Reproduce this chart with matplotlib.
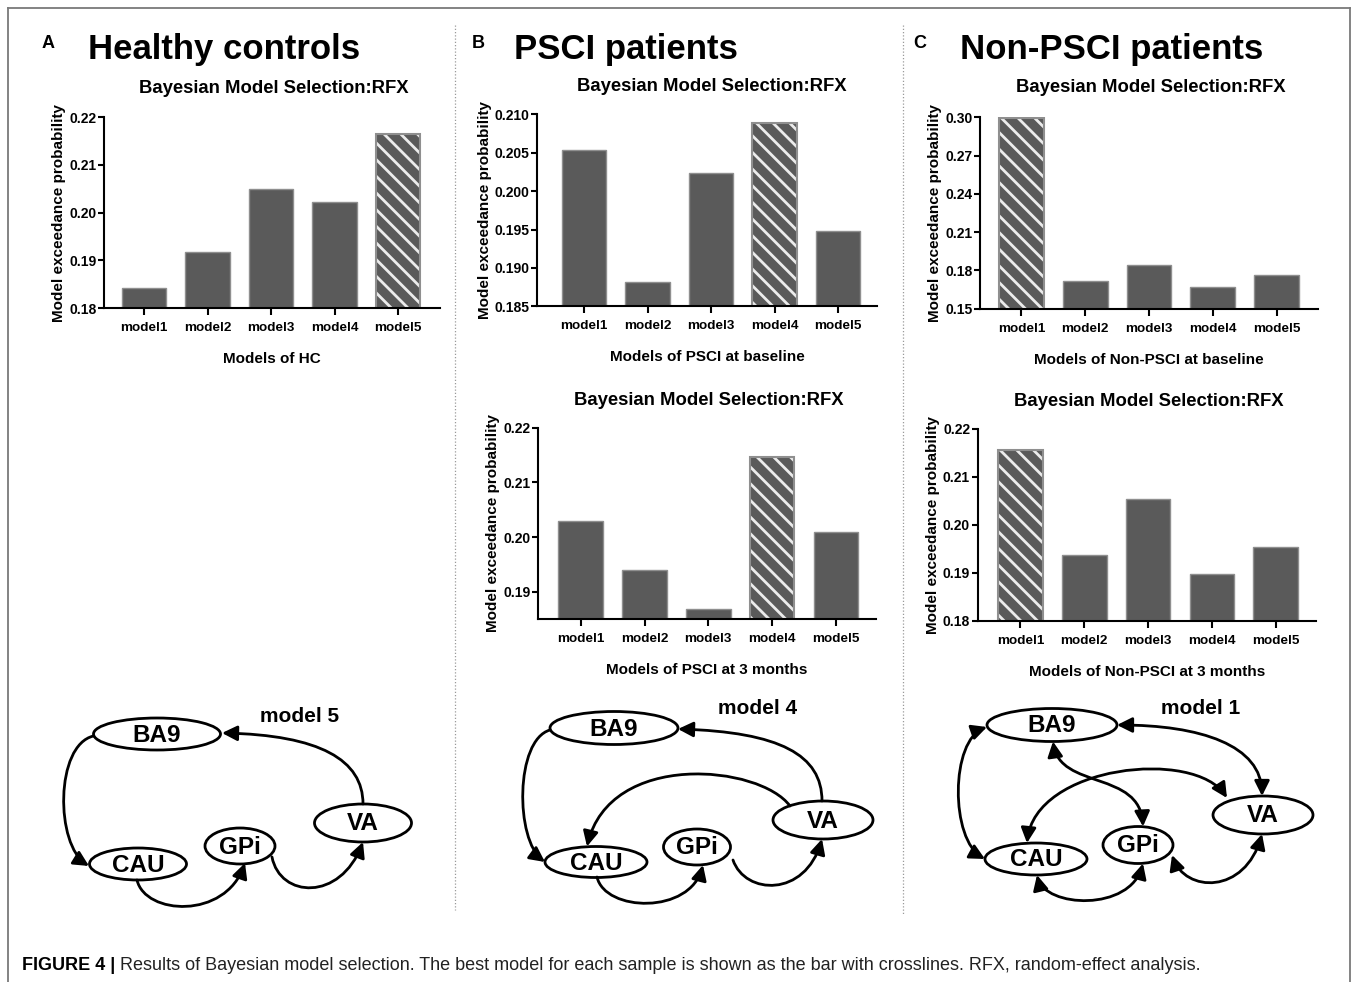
import matplotlib
matplotlib.use("Agg")
import matplotlib.pyplot as plt
import numpy as np
from matplotlib.patches import Ellipse, FancyArrowPatch
from matplotlib.path import Path

# exceedance probabilities per model, per group
models = ["model1", "model2", "model3", "model4", "model5"]
hc = [0.1842, 0.1918, 0.2049, 0.2023, 0.2165]
psci_base = [0.2053, 0.1881, 0.2024, 0.2089, 0.1948]
nonpsci_base = [0.2994, 0.1720, 0.1843, 0.1672, 0.1766]
psci_3m = [0.2029, 0.1940, 0.1868, 0.2147, 0.2010]
nonpsci_3m = [0.2156, 0.1936, 0.2054, 0.1897, 0.1954]

W, H = 1358, 982
BAR = "#5a5a5a"
EDGE = "#8f8f8f"
STRIPE = "#ececec"

plt.rcParams["font.family"] = ["Liberation Sans", "DejaVu Sans"]
plt.rcParams["hatch.linewidth"] = 2.0

fig = plt.figure(figsize=(W / 100, H / 100), dpi=100)
fig.patch.set_facecolor("white")

# full-figure canvas in pixel units for frame, headings and network sketches
cv = fig.add_axes([0, 0, 1, 1])
cv.set_xlim(0, W)
cv.set_ylim(H, 0)
cv.axis("off")


def px_rect(left, top, right, bottom):
    return [left / W, 1 - bottom / H, (right - left) / W, (bottom - top) / H]


def bar_panel(rect, values, ylim, yticks, yfmt, xlim, xlabel):
    ax = fig.add_axes(px_rect(*rect))
    vals = np.array(values)
    x = np.arange(len(models))
    best = int(np.argmax(vals))
    plain = x != best
    ax.bar(x[plain], vals[plain], width=0.7, color=BAR, edgecolor=EDGE, linewidth=1)
    ax.bar(x[best], vals[best], width=0.7, color=BAR, edgecolor=STRIPE,
           hatch="\\\\", linewidth=0)
    ax.bar(x[best], vals[best], width=0.7, fill=False, edgecolor=EDGE, linewidth=1.5)
    ax.set_xlim(*xlim)
    ax.set_ylim(*ylim)
    ax.set_yticks(yticks)
    ax.set_yticklabels([yfmt.format(t) for t in yticks])
    ax.set_xticks(x)
    ax.set_xticklabels(models)
    for s in ["top", "right"]:
        ax.spines[s].set_visible(False)
    for s in ["left", "bottom"]:
        ax.spines[s].set_linewidth(1.5)
    ax.tick_params(axis="y", length=4, width=1.5, pad=1.5, labelsize=10)
    ax.tick_params(axis="x", length=5, width=1.5, pad=5, labelsize=9.7)
    for lab in ax.get_xticklabels() + ax.get_yticklabels():
        lab.set_fontweight("bold")
    ax.set_ylabel("Model exceedance probability", fontsize=11, fontweight="bold", labelpad=2)
    ax.set_xlabel(xlabel, fontsize=11, fontweight="bold", labelpad=13)
    ax.patch.set_alpha(0)
    return ax


bar_panel((104, 117, 440, 308), hc, (0.18, 0.22), [0.18, 0.19, 0.20, 0.21, 0.22],
          "{:.2f}", (-0.63, 4.66), "Models of HC")
bar_panel((537, 114.3, 877, 306.3), psci_base, (0.185, 0.210),
          [0.185, 0.190, 0.195, 0.200, 0.205, 0.210], "{:.3f}", (-0.74, 4.61),
          "Models of PSCI at baseline")
bar_panel((980, 117.3, 1318, 308.7), nonpsci_base, (0.15, 0.30),
          [0.15, 0.18, 0.21, 0.24, 0.27, 0.30], "{:.2f}", (-0.65, 4.65),
          "Models of Non-PSCI at baseline")
bar_panel((538, 427.7, 876, 619.3), psci_3m, (0.185, 0.22), [0.19, 0.20, 0.21, 0.22],
          "{:.2f}", (-0.67, 4.63), "Models of PSCI at 3 months")
bar_panel((977.7, 428.7, 1316, 620.7), nonpsci_3m, (0.18, 0.22),
          [0.18, 0.19, 0.20, 0.21, 0.22], "{:.2f}", (-0.67, 4.63),
          "Models of Non-PSCI at 3 months")

# panel headings
for letter, name, lx, nx in [("A", "Healthy controls", 42, 88),
                             ("B", "PSCI patients", 472, 514),
                             ("C", "Non-PSCI patients", 913, 960)]:
    cv.text(lx, 48, letter, fontsize=13, fontweight="bold", va="baseline")
    cv.text(nx, 59, name, fontsize=25, fontweight="bold", va="baseline")

for tx, ty in [(274, 92.5), (711.7, 90.5), (1150.8, 91.5), (709, 405), (1149, 405.5)]:
    cv.text(tx, ty, "Bayesian Model Selection:RFX", fontsize=13.3, fontweight="bold",
            ha="center", va="baseline")

# outer frame and dotted column separators
frame = dict(color="#7a7a7a", lw=1.3)
cv.plot([7.5, 7.5], [H, 7.5], **frame)
cv.plot([7.5, 1350], [7.5, 7.5], **frame)
cv.plot([1350, 1350], [7.5, H], **frame)
cv.plot([455, 455], [25, 910], color="#9a9a9a", lw=0.9, ls=(0, (1, 1.6)))
cv.plot([903, 903], [25, 915], color="#9a9a9a", lw=0.9, ls=(0, (1, 1.6)))


def node(cx, cy, w, h, label):
    cv.add_patch(Ellipse((cx, cy), w, h, facecolor="white", edgecolor="black",
                         lw=2, zorder=2))
    cv.text(cx, cy + 1, label, fontsize=17.5, fontweight="bold", ha="center",
            va="center", zorder=4)


def link(p0, c1, c2, p3, both=False):
    path = Path([p0, c1, c2, p3], [Path.MOVETO, Path.CURVE4, Path.CURVE4, Path.CURVE4])
    style = "<|-|>" if both else "-|>"
    cv.add_patch(FancyArrowPatch(path=path, arrowstyle=style + ",head_length=0.7,head_width=0.35",
                                 mutation_scale=13, lw=2, color="black", zorder=3))


# model 5 (healthy controls)
node(157, 734, 127, 32, "BA9")
node(138, 864, 97, 32, "CAU")
node(240, 846, 70, 36, "GPi")
node(363, 823, 97, 38, "VA")
cv.text(260, 722, "model 5", fontsize=15, fontweight="bold", va="baseline")
link((93.5, 736), (55, 745), (55, 845), (89, 866))
link((363, 804), (363, 760), (320, 735), (222, 733))
link((137, 880), (145, 915), (225, 920), (245, 863))
link((272, 857), (280, 898), (340, 902), (363, 842))

# model 4 (PSCI)
node(614, 728, 128, 33, "BA9")
node(596, 862, 102, 31, "CAU")
node(697, 847, 67, 36, "GPi")
node(823, 820, 100, 38, "VA")
cv.text(718, 714, "model 4", fontsize=15, fontweight="bold", va="baseline")
link((550, 730), (515, 740), (515, 840), (545, 862))
link((822, 801), (822, 755), (780, 732), (678, 729))
link((790, 806), (760, 765), (610, 750), (587, 846.5))
link((597, 877), (605, 912), (690, 915), (703, 865))
link((733, 860), (745, 895), (805, 898), (822, 839))

# model 1 (non-PSCI)
node(1052, 725, 130, 33, "BA9")
node(1036, 859, 102, 32, "CAU")
node(1138, 845, 70, 37, "GPi")
node(1263, 815, 100, 38, "VA")
cv.text(1161, 714, "model 1", fontsize=15, fontweight="bold", va="baseline")
link((987, 727), (950, 740), (950, 840), (985, 859), both=True)
link((1117, 725), (1200, 725), (1262, 745), (1262, 796), both=True)
link((1053, 741.5), (1060, 790), (1140, 770), (1143, 826.5), both=True)
link((1027, 843), (1035, 765), (1195, 748), (1227, 798), both=True)
link((1037, 875), (1045, 908), (1130, 912), (1143, 863.5), both=True)
link((1172, 855), (1185, 893), (1245, 895), (1262, 834), both=True)

# caption
head = cv.text(22, 970, "FIGURE 4 |", fontsize=13, fontweight="bold", va="baseline",
               family=["Liberation Sans Narrow", "Liberation Sans"])
cv.annotate(" Results of Bayesian model selection. The best model for each sample is "
            "shown as the bar with crosslines. RFX, random-effect analysis.",
            xy=(1, 0), xycoords=head, va="bottom", fontsize=13, color="#222222",
            family=["Liberation Sans Narrow", "Liberation Sans"])

fig.savefig("out.png", dpi=100)
